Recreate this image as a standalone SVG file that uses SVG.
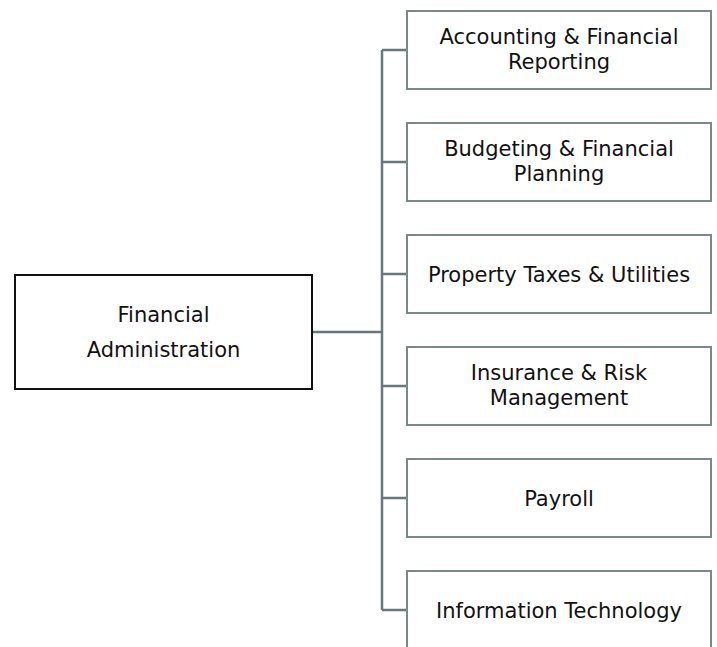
<svg xmlns="http://www.w3.org/2000/svg" width="717" height="647" viewBox="0 0 717 647">
<style>
.main{fill:#fff;stroke:#111;stroke-width:2}
.box{fill:#fff;stroke:#7b8888;stroke-width:2}
.conn{fill:none;stroke:#687878;stroke-width:2.5}
text{font-family:"DejaVu Sans",sans-serif;font-size:21px;fill:#111;text-anchor:middle}
</style>
<rect width="717" height="647" fill="#fff"/>
<g id="connectors">
<path class="conn" d="M312 332H382M382 50V610M382 50H407M382 162H407M382 274H407M382 386H407M382 498H407M382 610H407"/>
</g>
<g id="n0"><rect class="main" x="15" y="275" width="297" height="114"/><text x="163.5" y="322">Financial</text><text x="163.5" y="357">Administration</text></g>
<g id="n1"><rect class="box" x="407" y="11" width="304" height="78"/><text x="559" y="44">Accounting &amp; Financial</text><text x="559" y="69">Reporting</text></g>
<g id="n2"><rect class="box" x="407" y="123" width="304" height="78"/><text x="559" y="156">Budgeting &amp; Financial</text><text x="559" y="181">Planning</text></g>
<g id="n3"><rect class="box" x="407" y="235" width="304" height="78"/><text x="559" y="282">Property Taxes &amp; Utilities</text></g>
<g id="n4"><rect class="box" x="407" y="347" width="304" height="78"/><text x="559" y="380">Insurance &amp; Risk</text><text x="559" y="405">Management</text></g>
<g id="n5"><rect class="box" x="407" y="459" width="304" height="78"/><text x="559" y="506">Payroll</text></g>
<g id="n6"><rect class="box" x="407" y="571" width="304" height="78"/><text x="559" y="618">Information Technology</text></g>
</svg>
